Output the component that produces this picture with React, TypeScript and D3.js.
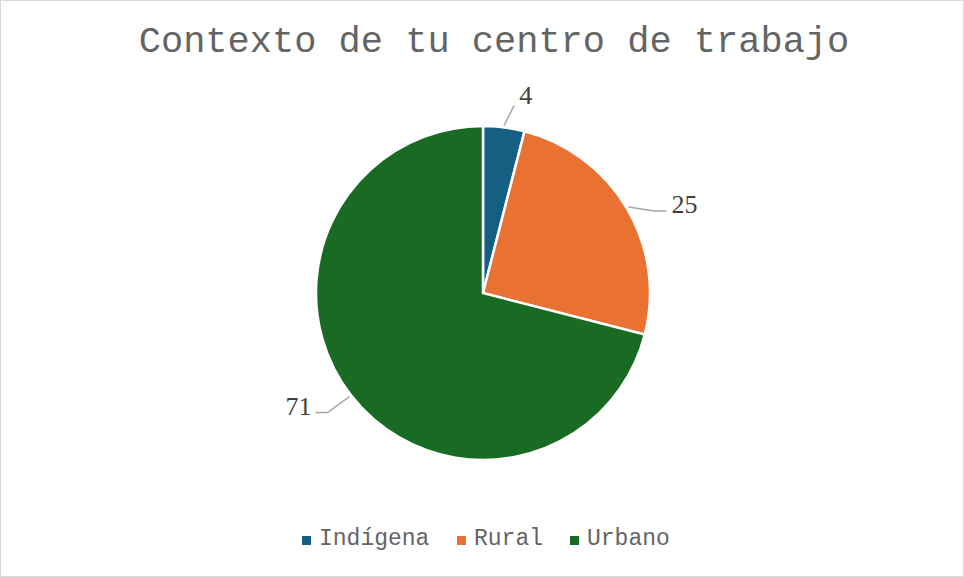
import React from "react";
import * as d3 from "d3";

const categories = ["Indígena", "Rural", "Urbano"];
const values = [4, 25, 71];
const colors = ["#156082", "#E97132", "#196B24"];
// leader-line elbow offsets from the slice edge, and tail lengths
const elbowOffsets = [[10, -20], [26, 4], [-22, 16]];
const tailLengths = [0, 12, -12];

const W = 964;
const H = 577;

export default function App() {
  const cx = 483;
  const cy = 293;
  const r = 167;

  const pie = d3
    .pie<number>()
    .sort(null)
    .value((d) => d);
  const arcs = pie(values);
  const arc = d3.arc<d3.PieArcDatum<number>>().innerRadius(0).outerRadius(r);

  const legendX = [302, 457, 570];

  return (
    <svg
      width={W}
      height={H}
      style={{ position: "absolute", left: 0, top: 0, background: "#fff" }}
    >
      <rect x={0.5} y={0.5} width={W - 1} height={H - 1} fill="#fff" stroke="#d9d9d9" />
      <text
        x={494}
        y={52}
        textAnchor="middle"
        fontFamily="'Liberation Mono', 'Courier New', monospace"
        fontSize={37}
        fill="#646464"
      >
        Contexto de tu centro de trabajo
      </text>
      <g transform={`translate(${cx},${cy})`}>
        {arcs.map((a, i) => (
          <path key={i} d={arc(a) || ""} fill={colors[i]} stroke="#fff" strokeWidth={2.5} />
        ))}
        {arcs.map((a, i) => {
          const mid = (a.startAngle + a.endAngle) / 2;
          const ex = Math.sin(mid) * (r + 2);
          const ey = -Math.cos(mid) * (r + 2);
          const bx = ex + elbowOffsets[i][0];
          const by = ey + elbowOffsets[i][1];
          const tx = bx + tailLengths[i];
          const right = Math.sin(mid) >= 0;
          const labelX = tx + (right ? 5 : -4);
          const labelY = i === 0 ? by - 1 : by + 2;
          return (
            <g key={"l" + i}>
              <polyline
                points={`${ex},${ey} ${bx},${by} ${tx},${by}`}
                fill="none"
                stroke="#a6a6a6"
                strokeWidth={1.5}
              />
              <text
                x={labelX}
                y={labelY}
                textAnchor={right ? "start" : "end"}
                fontFamily="'Liberation Serif', 'Times New Roman', serif"
                fontSize={26}
                fill="#404040"
              >
                {values[i]}
              </text>
            </g>
          );
        })}
      </g>
      {categories.map((c, i) => (
        <g key={c} transform={`translate(${legendX[i]},545)`}>
          <rect x={0} y={-9} width={9} height={9} fill={colors[i]} />
          <text
            x={17}
            y={0}
            fontFamily="'Liberation Mono', 'Courier New', monospace"
            fontSize={23}
            fill="#646464"
          >
            {c}
          </text>
        </g>
      ))}
    </svg>
  );
}
